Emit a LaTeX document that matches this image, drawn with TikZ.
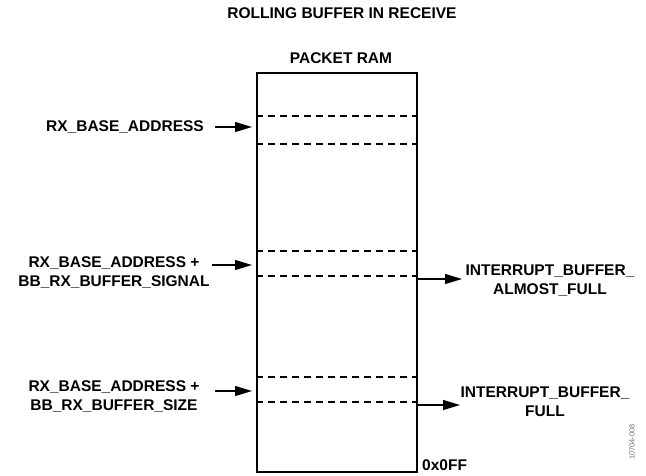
\documentclass[tikz,border=0pt]{standalone}
\usepackage{fontspec}
\setmainfont{Liberation Sans}
\usetikzlibrary{positioning,arrows.meta}

\begin{document}
\begin{tikzpicture}[x=1pt,y=-1pt,
  lbl/.style={font=\bfseries\fontsize{15.5}{19}\selectfont, align=center, inner sep=0pt},
  sep/.style={line width=1.3pt, dash pattern=on 7pt off 5pt},
  ptr/.style={line width=1.2pt, -{Triangle[length=17pt,width=10pt]}}]
\useasboundingbox (0,0) rectangle (646,475);
\node[lbl] (title) at (342,13) {ROLLING BUFFER IN RECEIVE};
\node[lbl] (ramlabel) at (341,58) {PACKET RAM};
\node[draw, line width=2pt, minimum width=160pt, minimum height=399pt, inner sep=0pt] (ram) at (337,272.5) {};
% dashed rows in the ram
\foreach \y in {116,144,251,276,377,402}
  \draw[sep] (ram.west |- 0,\y) -- (ram.east |- 0,\y);
% left side
\node[lbl, anchor=east] (base) at (204,127) {RX\_BASE\_ADDRESS};
\node[lbl] (signal) at (114,272.5) {RX\_BASE\_ADDRESS +\\BB\_RX\_BUFFER\_SIGNAL};
\node[lbl] (size) at (114,396.5) {RX\_BASE\_ADDRESS +\\BB\_RX\_BUFFER\_SIZE};
\coordinate (b1) at (215,127);
\coordinate (b2) at (212,265);
\coordinate (b3) at (215,391);
\draw[ptr, shorten >=4pt] (b1) -- (ram.west |- b1);
\draw[ptr, shorten >=4pt] (b2) -- (ram.west |- b2);
\draw[ptr, shorten >=4pt] (b3) -- (ram.west |- b3);
% right side
\node[lbl] (almost) at (550,281) {INTERRUPT\_BUFFER\_\\ALMOST\_FULL};
\node[lbl] (full) at (545,401.5) {INTERRUPT\_BUFFER\_\\FULL};
\coordinate (c1) at (462,279);
\coordinate (c2) at (460,405);
\draw[ptr] (ram.east |- c1) -- (c1);
\draw[ptr] (ram.east |- c2) -- (c2);
\node[lbl, anchor=base west] (last) at (422,470) {0x0FF};
\node[rotate=90, text=black!55, font=\fontsize{7.5}{8}\selectfont, inner sep=0pt] (code) at (632,442) {10704-008};
\end{tikzpicture}
\end{document}
